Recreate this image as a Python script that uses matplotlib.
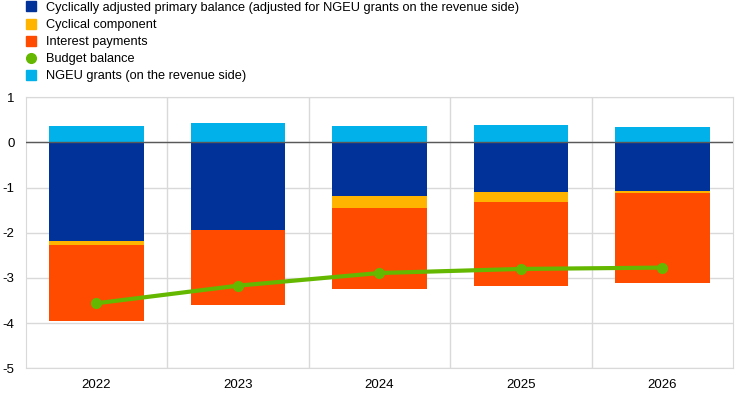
import numpy as np
import matplotlib.pyplot as plt
from matplotlib.lines import Line2D

plt.rcParams['font.family'] = ['Liberation Sans', 'DejaVu Sans']
plt.rcParams['axes.unicode_minus'] = False

years = ['2022', '2023', '2024', '2025', '2026']
capb = [-2.18, -1.94, -1.19, -1.10, -1.08]
cyclical = [-0.09, 0.0, -0.26, -0.22, -0.04]
interest = [-1.68, -1.66, -1.80, -1.86, -1.99]
ngeu = [0.36, 0.43, 0.36, 0.38, 0.34]
balance = [-3.56, -3.17, -2.89, -2.80, -2.77]

c_blue = '#003299'
c_yellow = '#FFB400'
c_red = '#FF4B00'
c_green = '#65B800'
c_light = '#00B1EA'

fig = plt.figure(figsize=(7.44, 3.95), dpi=100)
ax = fig.add_axes([0.0345, 0.0676, 0.951, 0.686])

x = np.arange(len(years))
w = 0.67
capb = np.array(capb)
cyclical = np.array(cyclical)
interest = np.array(interest)

ax.bar(x, ngeu, w, color=c_light, zorder=2)
ax.bar(x, capb, w, color=c_blue, zorder=2)
ax.bar(x, cyclical, w, bottom=capb, color=c_yellow, zorder=2)
ax.bar(x, interest, w, bottom=capb + cyclical, color=c_red, zorder=2)
ax.plot(x, balance, color=c_green, lw=3, marker='o', ms=7, zorder=4)
ax.axhline(0, color='#595959', lw=1, zorder=3)

ax.set_xlim(-0.5, len(years) - 0.5)
ax.set_ylim(-5, 1)
ax.set_yticks(np.arange(-5, 2, 1))
ax.set_xticks(x)
ax.set_xticklabels(years)
ax.set_xticks(np.arange(0.5, len(years) - 1, 1), minor=True)
ax.grid(axis='y', which='major', color='#d9d9d9', lw=1, zorder=0)
ax.grid(axis='x', which='minor', color='#d9d9d9', lw=1, zorder=0)
ax.tick_params(which='both', length=0, labelsize=9.5, colors='black')
ax.tick_params(axis='x', pad=8)
ax.tick_params(axis='y', pad=8)
for s in ax.spines.values():
    s.set_color('#d9d9d9')

handles = [
    Line2D([], [], ls='none', marker='s', ms=7, color=c_blue),
    Line2D([], [], ls='none', marker='s', ms=7, color=c_yellow),
    Line2D([], [], ls='none', marker='s', ms=7, color=c_red),
    Line2D([], [], ls='none', marker='o', ms=7, color=c_green),
    Line2D([], [], ls='none', marker='s', ms=7, color=c_light),
]
labels = ['Cyclically adjusted primary balance (adjusted for NGEU grants on the revenue side)',
          'Cyclical component', 'Interest payments', 'Budget balance',
          'NGEU grants (on the revenue side)']
fig.legend(handles, labels, loc='upper left', bbox_to_anchor=(0.028, 1.008),
           frameon=False, fontsize=9.2, handlelength=0.8, handletextpad=0.75,
           labelspacing=0.4, borderaxespad=0)

plt.savefig('out.png', dpi=100)
